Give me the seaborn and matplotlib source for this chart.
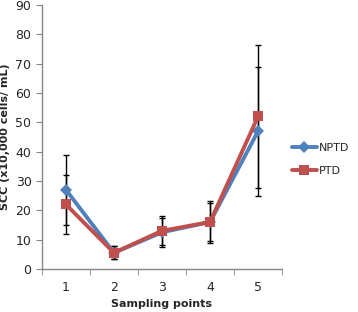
import pandas as pd
import numpy as np
import seaborn as sns
import matplotlib.pyplot as plt

# values
points = [1, 2, 3, 4, 5]
nptd = [27, 5.5, 12.5, 16, 47]
nptd_err = [12, 2.2, 5, 6.5, 22]
ptd = [22, 5.5, 13, 16, 52]
ptd_err = [10, 2.2, 5, 7, 24.5]

df = pd.DataFrame({
    'point': points * 2,
    'scc': nptd + ptd,
    'err': nptd_err + ptd_err,
    'group': ['NPTD'] * 5 + ['PTD'] * 5,
})

sns.set_style('white')
plt.rcParams['font.family'] = ['DejaVu Sans']

fig = plt.figure(figsize=(3.58, 3.12), dpi=100)
ax = fig.add_axes([0.117, 0.138, 0.671, 0.846])

palette = {'NPTD': '#4F81BD', 'PTD': '#C0504D'}

# error bars first so lines sit on top
for g, sub in df.groupby('group'):
    ax.errorbar(sub['point'], sub['scc'], yerr=sub['err'], fmt='none',
                ecolor='black', elinewidth=1.0, capsize=2.5, capthick=1.0, zorder=1)

sns.lineplot(data=df, x='point', y='scc', hue='group', style='group',
             markers={'NPTD': 'D', 'PTD': 's'}, dashes=False, palette=palette,
             linewidth=2.8, markersize=6.5, markeredgewidth=0, ax=ax, zorder=3)

ax.set_xlim(0.5, 5.5)
ax.set_ylim(0, 90)
ax.set_yticks(np.arange(0, 91, 10))
ax.set_xticks(points)
ax.set_xticks(np.arange(0.5, 5.6, 1), minor=True)
ax.tick_params(axis='x', which='major', length=0, labelsize=9, pad=9)
ax.tick_params(axis='x', which='minor', length=4, color='#868686', direction='out', bottom=True)
ax.tick_params(axis='y', length=4, color='#868686', direction='out', left=True, labelsize=9)

for s in ['top', 'right']:
    ax.spines[s].set_visible(False)
for s in ['left', 'bottom']:
    ax.spines[s].set_color('#868686')
    ax.spines[s].set_linewidth(1)

ax.set_xlabel('Sampling points', fontsize=8, fontweight='bold', labelpad=3)
ax.set_ylabel('SCC (x10,000 cells/ mL)', fontsize=8, fontweight='bold', labelpad=4)

ax.legend(title=None, frameon=False, fontsize=8, loc='center left',
          bbox_to_anchor=(1.0, 0.415), handlelength=2.2, handletextpad=0.2,
          labelspacing=1.1)

fig.savefig('out.png', dpi=100)
